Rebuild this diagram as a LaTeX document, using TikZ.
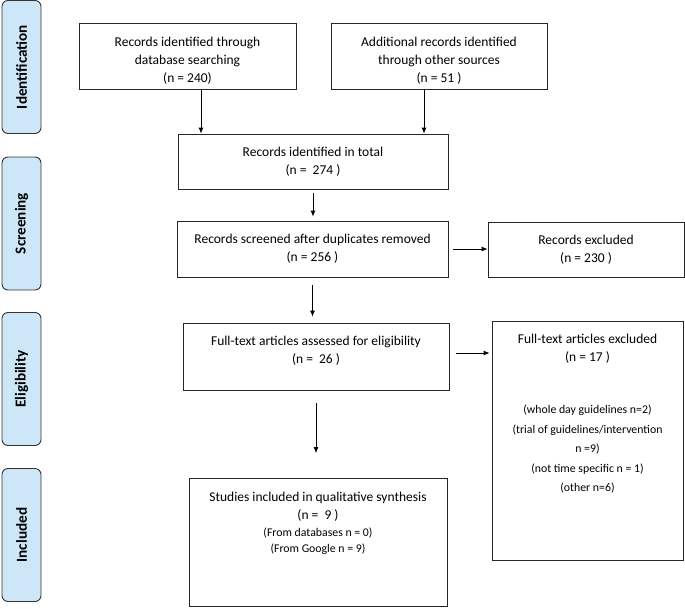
\documentclass[tikz,border=0pt]{standalone}
\usepackage{fontspec}
\setmainfont{Carlito}
\usetikzlibrary{arrows.meta}
\definecolor{sideblue}{RGB}{206,231,248}
\newcommand{\boxfont}{\fontsize{13.5}{18}\selectfont}
\newcommand{\smallfont}{\fontsize{11.8}{18}\selectfont}
\begin{document}
\begin{tikzpicture}[x=1pt, y=-1pt,
    box/.style={draw=black!85, line width=0.8pt, align=center, font=\boxfont, inner sep=0pt},
    side/.style={draw=black!80, line width=0.9pt, fill=sideblue, rounded corners=6pt, rotate=90,
      minimum width=133pt, minimum height=39pt, inner sep=0pt, font=\bfseries\fontsize{15.2}{18}\selectfont},
    arr/.style={-{Latex[length=6pt,width=5pt]}, line width=0.8pt}]
  \useasboundingbox (0,0) rectangle (685,608);
  \node[side] (ident) at (21.5,67) {Identification};
  \node[side] (scr) at (21.5,223.5) {Screening};
  \node[side] (elig) at (21.5,379) {Eligibility};
  \node[side] (incl) at (21.5,535) {Included};
  \node[box, minimum width=217pt, minimum height=66pt] (dbrec) at (187.5,56)
    {\mbox{}\\[0.5pt]Records identified through\\database searching\\(n = 240)};
  \node[box, minimum width=216pt, minimum height=66pt] (otherrec) at (439,56)
    {\mbox{}\\[0.5pt]Additional records identified\\through other sources\\(n = 51 )};
  \node[box, minimum width=270pt, minimum height=55pt] (total) at (313,161.5)
    {Records identified in total\\(n = \ 274 )};
  \node[box, minimum width=271pt, minimum height=56pt] (screened) at (312.5,249)
    {Records screened after duplicates removed\\(n = 256 )};
  \node[box, minimum width=196pt, minimum height=55pt] (excl) at (586,249.5)
    {Records excluded\\(n = 230 )};
  \node[box, minimum width=266pt, minimum height=67pt] (fulltext) at (316,356.5)
    {Full-text articles assessed for eligibility\\(n = \ 26 )\\[-4.5pt]\mbox{}};
  \node[box, minimum width=191pt, minimum height=239pt] (ftexcl) at (587.5,440.5)
    {Full-text articles excluded\\(n = 17 )\\[34.5pt]
     {\smallfont (whole day guidelines n=2)}\\[1.5pt]
     {\smallfont (trial of guidelines/intervention}\\[1.5pt]
     {\smallfont n =9)}\\[1.5pt]
     {\smallfont (not time specific n = 1)}\\[1.5pt]
     {\smallfont (other n=6)}\\[37pt]\mbox{}};
  \node[box, minimum width=258pt, minimum height=128pt] (inclbox) at (318,542.5)
    {Studies included in qualitative synthesis\\(n = \ 9 )\\[-0.5pt]
     {\smallfont (From databases n = 0)}\\[-2pt]
     {\smallfont (From Google n = 9)}\\[22pt]\mbox{}};
  \draw[arr] ([xshift=13.5pt]dbrec.south) -- ([xshift=13.5pt]dbrec.south |- total.north);
  \draw[arr] ([xshift=-15pt]otherrec.south) -- ([xshift=-15pt]otherrec.south |- total.north);
  \draw[arr, shorten <=4pt, shorten >=4pt] (total.south) -- (total.south |- screened.north);
  \draw[arr, shorten <=5pt] (screened.east) -- (screened.east -| excl.west);
  \draw[arr, shorten <=8pt, shorten >=6pt] (screened.south) -- (screened.south |- fulltext.north);
  \draw[arr, shorten <=7pt, shorten >=2pt] ([yshift=3.5pt]fulltext.east) -- ([yshift=3.5pt]fulltext.east -| ftexcl.west);
  \draw[arr, shorten <=13pt, shorten >=25pt] (fulltext.south) -- (fulltext.south |- inclbox.north);
\end{tikzpicture}
\end{document}
